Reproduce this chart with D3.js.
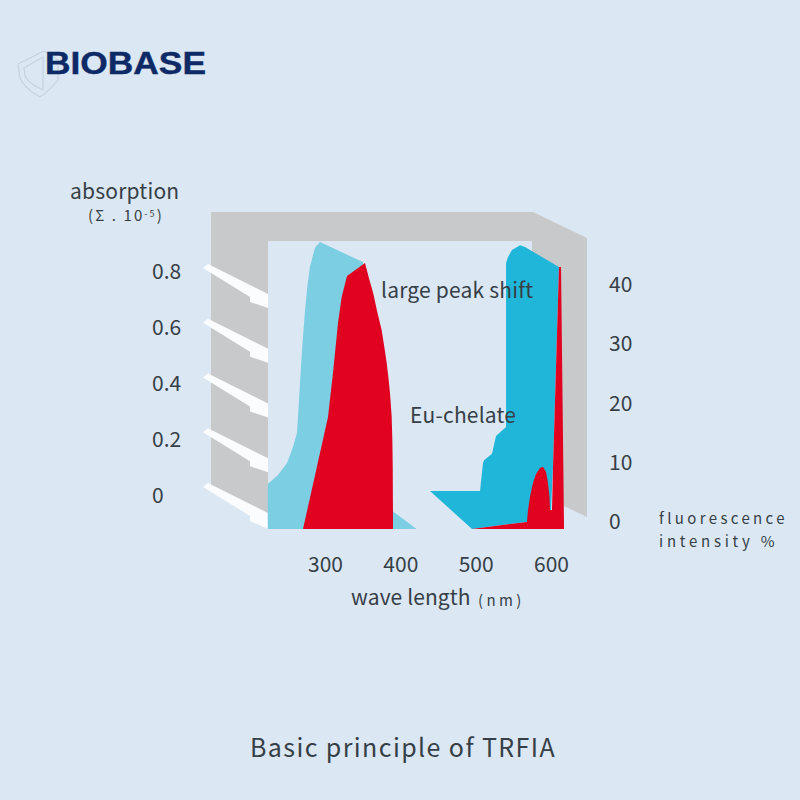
<!DOCTYPE html>
<html><head><meta charset="utf-8">
<script src="https://cdn.jsdelivr.net/npm/d3@7"></script>
<style>html,body{margin:0;padding:0;background:#dbe7f3}svg{display:block}
text{font-family:"Noto Sans CJK SC","Noto Sans",sans-serif;fill:#363f47}
.tick text{font-family:"Noto Sans CJK SC","Noto Sans",sans-serif;fill:#363f47;font-size:21px}</style>
</head><body><svg id="c" width="800" height="800"></svg>
<script>
// ---- data ----
const wavelengthTicks = [300, 400, 500, 600];
const absorptionTicks = [0, 0.2, 0.4, 0.6, 0.8];
const fluorescenceTicks = [0, 10, 20, 30, 40];

const absBlueNm = [224,224,237.6,249.6,257.5,262.8,265.5,267.5,269.5,273.5,276.5,280,286.7,293.4,350.4,390.7,421.7];
const absBlueVal = [0,0.164,0.197,0.241,0.300,0.351,0.471,0.565,0.654,0.800,0.885,0.957,1.027,1.048,0.975,0.063,0];

const absRedNm = [270.8,304,310.6,317.3,322.1,329.2,353.1,358.4,364.1,369.4,375.2,378.7,381.9,384.5,386.3,388.5,389.4,389.9,390.3];
const absRedVal = [0,0.409,0.570,0.753,0.847,0.924,0.972,0.916,0.860,0.793,0.727,0.666,0.606,0.545,0.496,0.410,0.325,0.227,0];

const fluBlueNm = [439.4,505.8,509.7,511.1,521.7,527,540.3,540.3,543,548.2,558.9,565.5,610.6,602.7,600,568.1,495.1];
const fluBlueVal = [6.41,6.41,11.1,11.6,12.7,15.7,17.2,44.9,45.9,47.1,47.9,47.6,44.2,10.5,3.2,1.2,0];

const fluRedNm = [495.1,568.1,569.5,572.1,576.1,580.1,585.4,589.4,593.4,596,598,598.7,601.3,602.7,610.6,613.3,617.3];
const fluRedVal = [0,1.2,3.2,5.4,7.8,9.3,10.3,10.5,9.6,7.8,5.4,3.2,3.2,10.5,44.2,44.2,0];

// ---- scales ----
const x = d3.scaleLinear().domain([300,600]).range([325,551]);
const yLeftLabel = d3.scaleLinear().domain([0,0.8]).range([496,272]);
const yRightLabel = d3.scaleLinear().domain([0,40]).range([522,285]);
const yShelf = d3.scaleLinear().domain([0,0.8]).range([483,264]);
const FRONT = 46, RIGHT_FRONT = 7;
const yAbs = v => yShelf(v) + FRONT;
const yFlu = v => yRightLabel(v) + RIGHT_FRONT;

const svg = d3.select('#c');
const poly = (pts, fill) => svg.append('path')
  .attr('d', d3.line().x(d=>d[0]).y(d=>d[1])(pts) + 'Z').attr('fill', fill);

// ---- grey 3D frame ----
poly([[211,212],[533,212],[587,238],[587,517],[562,505],[559,268],[532,253],[532,241],[268,241],[268,522],[211,490]], '#c8c9ca');

// ---- white shelves at each absorption tick ----
absorptionTicks.forEach(t => {
  const y0 = yShelf(t);
  const h = t === 0 ? 46 : 44;
  poly([[203,y0+4],[208,y0],[268,y0+30],[268,y0+h],[250,y0+38],[250,y0+33]], '#fafcfd');
});

// ---- areas ----
poly(absBlueNm.map((n,i)=>[x(n), yAbs(absBlueVal[i])]), '#7ccee3');
poly(absRedNm.map((n,i)=>[x(n), yAbs(absRedVal[i])]), '#e0021f');
poly(fluBlueNm.map((n,i)=>[x(n), yFlu(fluBlueVal[i])]), '#20b6d9');
poly(fluRedNm.map((n,i)=>[x(n), yFlu(fluRedVal[i])]), '#e0021f');

// ---- axes (labels only) ----
const strip = g => { g.select('.domain').remove(); g.selectAll('line').remove(); g.attr('font-size',null).attr('font-family',null); };
svg.append('g').attr('transform','translate(0,572)')
  .call(d3.axisBottom(x).tickValues(wavelengthTicks).tickSize(0).tickPadding(0)).call(strip)
  .selectAll('text').attr('y',0).attr('dy','0').attr('text-anchor','middle')
  .attr('dominant-baseline','alphabetic');
svg.append('g').attr('transform','translate(152,0)')
  .call(d3.axisRight(yLeftLabel).tickValues(absorptionTicks).tickFormat(d=>d===0?'0':d3.format('.1f')(d)).tickSize(0).tickPadding(0)).call(strip);
svg.append('g').attr('transform','translate(609,0)')
  .call(d3.axisRight(yRightLabel).tickValues(fluorescenceTicks).tickSize(0).tickPadding(0)).call(strip);

// ---- text ----
const T = (s,x0,y0,size,ls,w) => svg.append('text').attr('x',x0).attr('y',y0)
  .attr('font-size',size).attr('letter-spacing',ls||0).attr('font-weight',w||400).text(s);
T('absorption',70,199,21,0.2);
const s5 = T('(Σ . 10',88,221,15,2.1);
s5.append('tspan').attr('font-size',9).attr('dy',-4).text('-5');
s5.append('tspan').attr('font-size',15).attr('dy',4).text(')');
T('large peak shift',381,298,21,0.2);
T('Eu-chelate',410,423,21,0.2);
T('wave length',351,605,21,0.1);
T('(nm)',478,606,15,3.4);
T('fluorescence',659,524,15,3.35);
T('intensity %',659,547,15,3.75);
T('Basic principle of TRFIA',250,757,25,1.4);

// ---- logo ----
const sh = svg.append('g').attr('fill','none').attr('stroke','#c6d3df').attr('stroke-width',1.2);
sh.append('path').attr('d','M18 64 L44 51 L58 60 L58 80 Q50 90 40 97 Q24 88 20 78 Z');
sh.append('path').attr('d','M24 68 L43 57 L43 90 Q29 84 25 76 Z');
svg.append('text').attr('x',45).attr('y',74).attr('font-size',31).attr('font-weight',700)
  .attr('textLength',161).attr('lengthAdjust','spacingAndGlyphs')
  .style('font-family','"Liberation Sans",sans-serif').style('fill','#0d2a66')
  .attr('stroke','#0d2a66').attr('stroke-width',0.4).text('BIOBASE');
</script></body></html>
